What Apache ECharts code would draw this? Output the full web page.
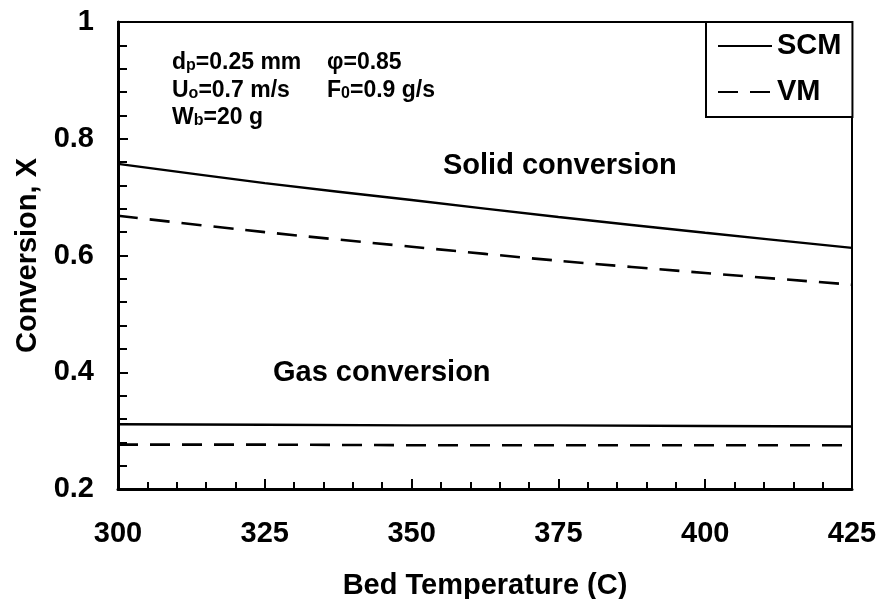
<!DOCTYPE html>
<html>
<head>
<meta charset="utf-8">
<script src="https://cdn.jsdelivr.net/npm/echarts@6/dist/echarts.min.js"></script>
<style>
html,body{margin:0;padding:0;background:#fff;}
#chart{width:880px;height:599px;}
</style>
</head>
<body>
<div id="chart"></div>
<script>
// Data
var temperatures = [300, 325, 350, 375, 400, 425];
var solidSCM = [0.757, 0.724, 0.695, 0.666, 0.639, 0.613];
var solidVM  = [0.668, 0.640, 0.615, 0.591, 0.570, 0.550];
var gasSCM   = [0.311, 0.310, 0.309, 0.309, 0.308, 0.307];
var gasVM    = [0.276, 0.276, 0.275, 0.275, 0.275, 0.275];
var yTicks = [0.2, 0.4, 0.6, 0.8, 1];
var xTicks = [300, 325, 350, 375, 400, 425];
var legendNames = ['SCM', 'VM'];

function pairs(xs, ys){ return xs.map(function(x,i){ return [x, ys[i]]; }); }

var FONT = "'Liberation Sans', Arial, sans-serif";
var chart = echarts.init(document.getElementById('chart'), null, {renderer:'canvas'});

var solidStyle = {color:'#000', width:2.4, type:'solid'};
var dashStyle = {color:'#000', width:2.6, type:[20,12]};

var option = {
  animation:false,
  backgroundColor:'#fff',
  grid:{left:118, right:28, top:22, bottom:110, show:true, borderColor:'#000', borderWidth:2, backgroundColor:'transparent', outerBoundsMode:'none', containLabel:false},
  legend:{
    data:legendNames,
    orient:'vertical',
    left:706, top:22,
    padding:[9,11,10,11],
    itemGap:16,
    itemWidth:54, itemHeight:14,
    backgroundColor:'#fff',
    borderColor:'#000', borderWidth:2,
    itemStyle:{opacity:0},
    textStyle:{fontFamily:FONT, fontWeight:'bold', fontSize:29, color:'#000', lineHeight:30}
  },
  xAxis:{
    type:'value', min:xTicks[0], max:xTicks[xTicks.length-1], interval:25,
    name:'Bed Temperature (C)', nameLocation:'middle', nameGap:82,
    nameTextStyle:{fontFamily:FONT, fontWeight:'bold', fontSize:29, color:'#000'},
    axisLine:{show:true, lineStyle:{color:'#000', width:3}},
    axisTick:{show:true, inside:true, length:10, lineStyle:{color:'#000', width:2}},
    minorTick:{show:true, splitNumber:5, length:7, lineStyle:{color:'#000', width:2}},
    splitLine:{show:false},
    axisLabel:{fontFamily:FONT, fontWeight:'bold', fontSize:29, color:'#000', margin:30}
  },
  yAxis:{
    type:'value', min:yTicks[0], max:yTicks[yTicks.length-1], interval:0.2,
    name:'Conversion, X', nameLocation:'middle', nameGap:76,
    nameTextStyle:{fontFamily:FONT, fontWeight:'bold', fontSize:29, color:'#000'},
    axisLine:{show:true, lineStyle:{color:'#000', width:3}},
    axisTick:{show:true, inside:true, length:10, lineStyle:{color:'#000', width:2}},
    minorTick:{show:true, splitNumber:5, length:9, lineStyle:{color:'#000', width:2}},
    splitLine:{show:false},
    axisLabel:{fontFamily:FONT, fontWeight:'bold', fontSize:29, color:'#000', margin:24, padding:[6,0,0,0],
      formatter:function(v){ return Math.abs(v-1)<1e-9 ? '1' : (Math.round(v*10)/10).toFixed(1); }}
  },
  series:[
    {name:'SCM', type:'line', data:pairs(temperatures, solidSCM), symbol:'none', smooth:0.3, lineStyle:solidStyle, itemStyle:{color:'#000'}},
    {name:'VM', type:'line', data:pairs(temperatures, solidVM), symbol:'none', smooth:0.3, lineStyle:dashStyle, itemStyle:{color:'#000'}},
    {name:'SCM', type:'line', data:pairs(temperatures, gasSCM), symbol:'none', lineStyle:solidStyle, itemStyle:{color:'#000'}},
    {name:'VM', type:'line', data:pairs(temperatures, gasVM), symbol:'none', lineStyle:dashStyle, itemStyle:{color:'#000'}}
  ],
  graphic:[]
};

var annRich = {
  sub:{fontFamily:FONT, fontWeight:'bold', fontSize:16, fill:'#000', verticalAlign:'bottom', lineHeight:27, padding:[0,0,2,0]}
};
function ann(x, y, txt, size){
  return {type:'text', left:x, top:y, z:100, style:{
    text:txt, fontFamily:FONT, fontWeight:'bold', fontSize:size||23, lineHeight:27, fill:'#000',
    rich:annRich
  }};
}
option.graphic = [
  ann(172, 49, 'd{sub|p}=0.25 mm'),
  ann(327, 49, 'φ=0.85'),
  ann(172, 77, 'U{sub|o}=0.7 m/s'),
  ann(327, 77, 'F{sub|0}=0.9 g/s'),
  ann(172, 104, 'W{sub|b}=20 g'),
  {type:'text', left:443, top:151, z:100, style:{text:'Solid conversion', fontFamily:FONT, fontWeight:'bold', fontSize:29, fill:'#000'}},
  {type:'text', left:273, top:358, z:100, style:{text:'Gas conversion', fontFamily:FONT, fontWeight:'bold', fontSize:29, fill:'#000'}}
];

chart.setOption(option);
</script>
</body>
</html>
